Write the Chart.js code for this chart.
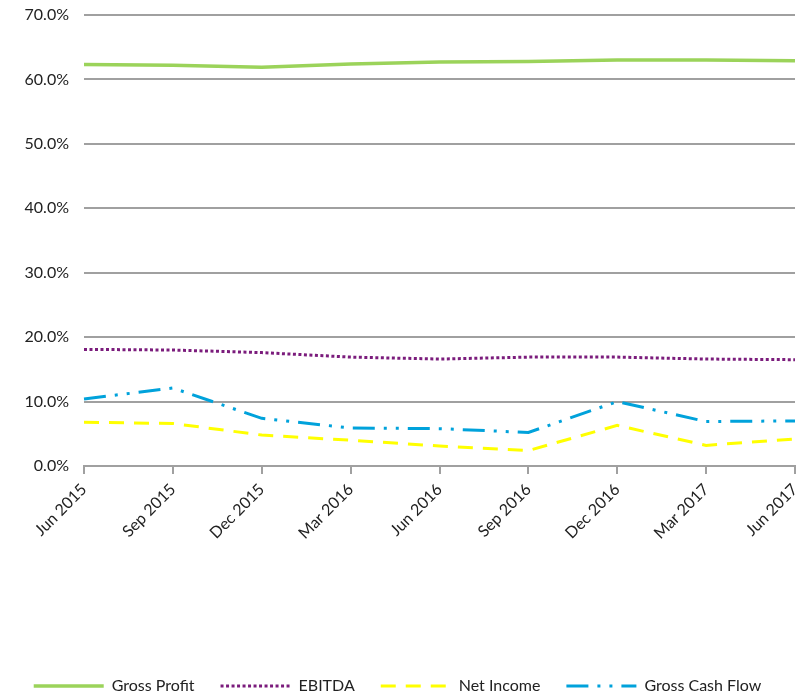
<!DOCTYPE html>
<html>
<head>
<meta charset="utf-8">
<script src="https://cdn.jsdelivr.net/npm/chart.js@4"></script>
<style>
  html, body { margin: 0; padding: 0; background: #fff; }
  #wrap { width: 807px; height: 695px; }
</style>
</head>
<body>
<div id="wrap"><canvas id="marginChart"></canvas></div>
<script>
const quarters = ["Jun 2015", "Sep 2015", "Dec 2015", "Mar 2016", "Jun 2016", "Sep 2016", "Dec 2016", "Mar 2017", "Jun 2017"];
const grossProfit = [62.3, 62.2, 61.9, 62.4, 62.7, 62.8, 63.0, 63.0, 62.9];
const ebitda = [18.1, 18.0, 17.6, 16.9, 16.6, 16.9, 16.9, 16.6, 16.5];
const netIncome = [6.8, 6.6, 4.8, 4.0, 3.1, 2.4, 6.3, 3.2, 4.2];
const grossCashFlow = [10.4, 12.1, 7.4, 5.9, 5.8, 5.2, 10.0, 6.9, 7.0];
const yTicks = [0, 10, 20, 30, 40, 50, 60, 70];

const fontFamily = "Lato, 'Open Sans', sans-serif";
const gridGrey = "#a0a0a0";

const ctx = document.getElementById("marginChart").getContext("2d");
new Chart(ctx, {
  type: "line",
  data: {
    labels: quarters,
    datasets: [
      {
        label: "Gross Profit",
        data: grossProfit,
        borderColor: "#9bd35a",
        backgroundColor: "#9bd35a",
        borderWidth: 3.5
      },
      {
        label: "EBITDA",
        data: ebitda,
        borderColor: "#7b1c7c",
        backgroundColor: "#7b1c7c",
        borderWidth: 3,
        borderDash: [3, 2.5]
      },
      {
        label: "Net Income",
        data: netIncome,
        borderColor: "#ffff00",
        backgroundColor: "#ffff00",
        borderWidth: 3,
        borderDash: [15, 10]
      },
      {
        label: "Gross Cash Flow",
        data: grossCashFlow,
        borderColor: "#00a2db",
        backgroundColor: "#00a2db",
        borderWidth: 3,
        borderDash: [22, 9, 3, 9, 3, 9]
      }
    ]
  },
  options: {
    responsive: true,
    maintainAspectRatio: false,
    animation: false,
    layout: { padding: { top: 15, right: 12, left: 0, bottom: -9 } },
    elements: {
      point: { radius: 0, hoverRadius: 0 },
      line: { tension: 0 }
    },
    plugins: {
      legend: {
        position: "bottom",
        labels: {
          usePointStyle: true,
          pointStyle: "line",
          boxWidth: 70,
          boxHeight: 3,
          pointStyleWidth: 70,
          padding: 26,
          color: "#222",
          font: { family: fontFamily, size: 16 },
          // legend lines should carry the dataset dash pattern
          generateLabels: (chart) => {
            const items = Chart.defaults.plugins.legend.labels.generateLabels(chart);
            items.forEach(item => {
              const ds = chart.data.datasets[item.datasetIndex];
              item.lineDash = ds.borderDash || [];
              item.lineWidth = ds.borderWidth;
              item.strokeStyle = ds.borderColor;
            });
            return items;
          }
        }
      },
      tooltip: { enabled: false }
    },
    scales: {
      x: {
        offset: false,
        grid: {
          drawOnChartArea: false,
          drawTicks: true,
          tickLength: 8,
          color: gridGrey,
          lineWidth: 2
        },
        border: { color: gridGrey, width: 2 },
        ticks: {
          maxRotation: 45,
          minRotation: 45,
          padding: 6,
          color: "#222",
          font: { family: fontFamily, size: 16 }
        },
        afterFit: (scale) => {
          scale.height = 186;
          scale.paddingLeft = 0;
          scale.paddingRight = 0;
        }
      },
      y: {
        min: 0,
        max: 70,
        afterBuildTicks: (scale) => {
          scale.ticks = yTicks.map(v => ({ value: v }));
        },
        grid: {
          drawTicks: false,
          color: gridGrey,
          lineWidth: 2
        },
        border: { display: false },
        ticks: {
          padding: 15,
          color: "#222",
          font: { family: fontFamily, size: 16 },
          callback: (v) => v.toFixed(1) + "%"
        },
        afterFit: (scale) => {
          scale.width = 84;
          scale.paddingTop = 0;
          scale.paddingBottom = 0;
        }
      }
    }
  }
});
</script>
</body>
</html>
